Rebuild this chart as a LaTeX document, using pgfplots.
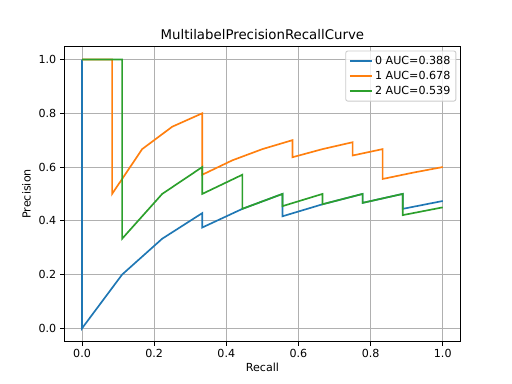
\documentclass[border=0pt]{standalone}
\usepackage{fontspec}
\setmainfont{DejaVu Sans}
\usepackage{pgfplots}
\pgfplotsset{compat=1.18}
\definecolor{c0}{HTML}{1F77B4}
\definecolor{c1}{HTML}{FF7F0E}
\definecolor{c2}{HTML}{2CA02C}
\definecolor{gridc}{HTML}{B0B0B0}
\definecolor{legc}{HTML}{CCCCCC}
\begin{document}
\fontsize{10pt}{12pt}\selectfont
\begin{tikzpicture}
\path[use as bounding box] (0,0) rectangle (460.8pt,345.6pt);
\begin{axis}[
  at={(57.6pt,38.016pt)}, anchor=south west,
  scale only axis, width=357.12pt, height=266.112pt,
  xmin=-0.05, xmax=1.05, ymin=-0.05, ymax=1.05,
  xtick={0,0.2,0.4,0.6,0.8,1.0}, ytick={0,0.2,0.4,0.6,0.8,1.0},
  /pgf/number format/assume math mode=true,
  /pgf/number format/fixed, /pgf/number format/fixed zerofill, /pgf/number format/precision=1,
  ticklabel style={font=\fontsize{10pt}{12pt}\selectfont},
  tick align=outside, tick pos=left, major tick length=3.5pt,
  every tick/.style={black, line width=0.8pt},
  axis line style={line width=0.8pt},
  grid=major, grid style={color=gridc, line width=0.8pt},
  title={MultilabelPrecisionRecallCurve},
  title style={font=\fontsize{12pt}{14pt}\selectfont, yshift=-4pt},
  xlabel={Recall}, ylabel={Precision},
  xlabel style={yshift=2pt},
  label style={font=\fontsize{10pt}{12pt}\selectfont},
  every axis plot post/.append style={line width=1.5pt},
  legend style={at={(1,1)}, anchor=north east, xshift=-4pt, yshift=-4pt,
    font=\fontsize{10pt}{12pt}\selectfont, draw=legc, line width=0.8pt, rounded corners=2pt,
    fill=white, fill opacity=0.8, text opacity=1, inner xsep=3pt, inner ysep=2pt,
    nodes={inner ysep=2.4pt}},
  legend cell align=left,
  legend image code/.code={\draw[#1, line width=1.5pt, sharp corners] (0pt,0pt) -- (20pt,0pt);},
]
\addplot[c0] coordinates {
(1.0,0.4737) (0.8889,0.4444) (0.8889,0.5) (0.7778,0.4667) (0.7778,0.5) (0.6667,0.4615)
(0.5556,0.4167) (0.5556,0.5) (0.4444,0.4444) (0.3333,0.375) (0.3333,0.4286) (0.2222,0.3333)
(0.1111,0.2) (0,0) (0,1)};
\addlegendentry{0 AUC=0.388}
\addplot[c1] coordinates {
(1.0,0.6) (0.9167,0.5789) (0.8333,0.5556) (0.8333,0.6667) (0.75,0.6429) (0.75,0.6923)
(0.6667,0.6667) (0.5833,0.6364) (0.5833,0.7) (0.5,0.6667) (0.4167,0.625) (0.3333,0.5714)
(0.3333,0.8) (0.25,0.75) (0.1667,0.6667) (0.0833,0.5) (0.0833,1.0) (0,1)};
\addlegendentry{1 AUC=0.678}
\addplot[c2] coordinates {
(1.0,0.45) (0.8889,0.4211) (0.8889,0.5) (0.7778,0.4667) (0.7778,0.5) (0.6667,0.4615)
(0.6667,0.5) (0.5556,0.4545) (0.5556,0.5) (0.4444,0.4444) (0.4444,0.5714) (0.3333,0.5)
(0.3333,0.6) (0.2222,0.5) (0.1111,0.3333) (0.1111,1.0) (0,1)};
\addlegendentry{2 AUC=0.539}
\end{axis}
\end{tikzpicture}
\end{document}
